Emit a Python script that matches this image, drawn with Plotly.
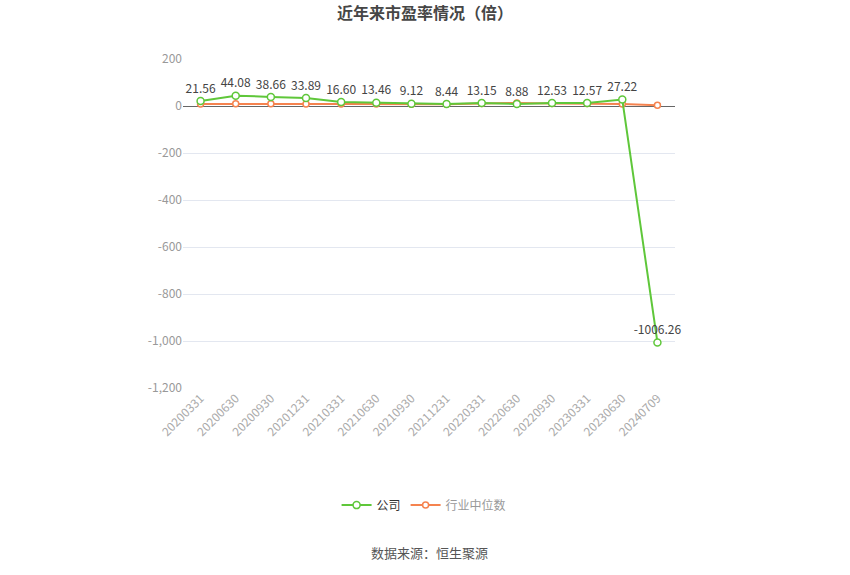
import plotly.graph_objects as go

# data
dates = ["20200331", "20200630", "20200930", "20201231", "20210331", "20210630", "20210930",
         "20211231", "20220331", "20220630", "20220930", "20230331", "20230630", "20240709"]
company = [21.56, 44.08, 38.66, 33.89, 16.60, 13.46, 9.12, 8.44, 13.15, 8.88, 12.53, 12.57, 27.22, -1006.26]
industry = [9, 10, 9.5, 9, 9, 8.5, 7.5, 7.5, 11, 13, 11, 11, 8, 3]
y_ticks = [200, 0, -200, -400, -600, -800, -1000, -1200]

green = "#5fc73a"
orange = "#f5834f"

fig = go.Figure()
fig.add_trace(go.Scatter(
    x=dates, y=industry, mode="lines+markers", name='<span style="color:#999">行业中位数</span>',
    line=dict(color=orange, width=2),
    marker=dict(symbol="circle", size=6, color="white", line=dict(color=orange, width=1.5)),
    legendrank=2,
))
fig.add_trace(go.Scatter(
    x=dates, y=company, mode="lines+markers+text", name="公司",
    line=dict(color=green, width=2),
    marker=dict(symbol="circle", size=7, color="white", line=dict(color=green, width=1.5)),
    text=[f"{v:.2f}" for v in company], textposition="top center",
    textfont=dict(size=12, color="#444"), cliponaxis=False,
    legendrank=1,
))

fig.update_layout(
    width=850, height=575,
    paper_bgcolor="white", plot_bgcolor="white",
    margin=dict(l=183, r=175, t=59, b=187),
    font=dict(family="Noto Sans CJK SC, sans-serif", size=12, color="#999"),
    title=dict(text="<b>近年来市盈率情况（倍）</b>", x=0.5, xanchor="center", y=0.976, yanchor="middle",
               font=dict(size=16, color="#464646")),
    showlegend=True,
    legend=dict(orientation="h", x=0.49, xanchor="center", y=-0.356, yanchor="middle",
                font=dict(size=12, color="#333"), itemwidth=30),
    xaxis=dict(type="category", range=[-0.5, len(dates) - 0.5], tickangle=-45,
               showgrid=False, showline=False, automargin=False,
               tickfont=dict(size=12, color="#aaa"), ticks="", zeroline=False),
    yaxis=dict(range=[-1200, 200], tickvals=y_ticks, ticktext=[f"{v:,}" for v in y_ticks],
               showgrid=True, gridcolor="#e3e7f0", gridwidth=1, automargin=False,
               zeroline=True, zerolinecolor="#666", zerolinewidth=1,
               tickfont=dict(size=12, color="#999"), ticks="", showline=False),
    annotations=[dict(text="数据来源：恒生聚源", x=0.5, xref="paper", y=-0.50, yref="paper",
                      xanchor="center", yanchor="middle", showarrow=False,
                      font=dict(size=13, color="#555"))],
)

# drop the default body margin so the figure sits at the top-left of the page
fig.write_html("out.html", config={"displayModeBar": False},
               post_script="document.body.style.margin='0';")
